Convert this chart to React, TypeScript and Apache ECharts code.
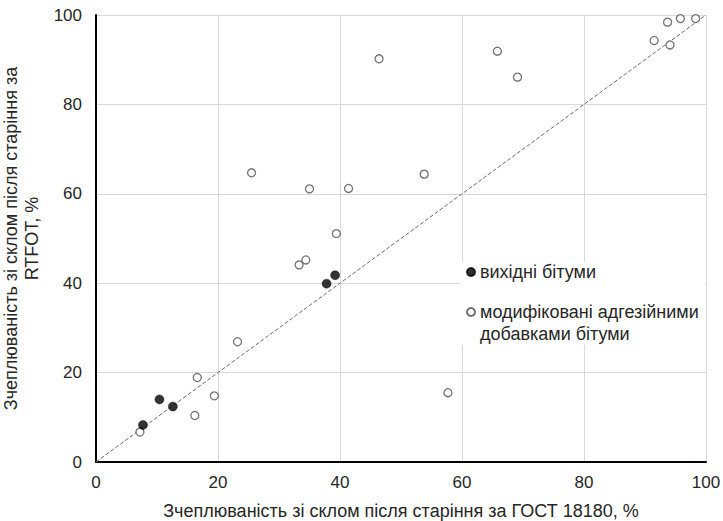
import React, { useEffect, useRef } from "react";
import * as echarts from "echarts";

const baseName = "вихідні бітуми";
const modName = "модифіковані адгезійними добавками бітуми";
const xTitle = "Зчеплюваність зі склом після старіння за ГОСТ 18180, %";
const yTitle = "Зчеплюваність зі склом після старіння за\nRTFOT, %";

// [GOST 18180 %, RTFOT %]
const baseX = [7.7, 10.4, 12.6, 37.8, 39.2];
const baseY = [8.3, 14.0, 12.4, 39.9, 41.8];

const modX = [46.4, 25.5, 35.0, 41.4, 39.4, 65.8, 69.1, 91.5, 93.7, 95.8, 98.3, 94.1, 53.8, 33.3, 34.4, 23.2, 16.6, 19.4, 16.2, 7.2, 57.7];
const modY = [90.2, 64.7, 61.1, 61.2, 51.1, 91.9, 86.1, 94.3, 98.4, 99.2, 99.2, 93.3, 64.4, 44.1, 45.2, 26.9, 18.9, 14.8, 10.4, 6.7, 15.5];

const lineX = [0, 100];
const lineY = [0, 100];

const FONT = "Liberation Sans";
const TXT = "#262626";

export default function App() {
  const ref = useRef<HTMLDivElement>(null);
  useEffect(() => {
    if (!ref.current) return;
    const chart = echarts.init(ref.current, undefined, { renderer: "svg" });
    const axisCommon = {
      type: "value",
      min: 0,
      max: 100,
      interval: 20,
      axisLine: { show: true, onZero: false, lineStyle: { color: "#000", width: 2 } },
      axisTick: { show: false },
      splitLine: { show: true, lineStyle: { color: "#d9d9d9", width: 1 } },
      nameLocation: "middle",
    };
    chart.setOption({
      animation: false,
      backgroundColor: "#fff",
      textStyle: { fontFamily: FONT },
      grid: { left: 96, right: 17, top: 15, bottom: 59, containLabel: false, outerBoundsMode: "none" },
      xAxis: {
        ...axisCommon,
        name: xTitle,
        nameGap: 40,
        nameTextStyle: { fontFamily: FONT, fontSize: 18, color: TXT, lineHeight: 18 },
        axisLabel: { fontFamily: FONT, fontSize: 17, color: TXT, margin: 12 },
      },
      yAxis: {
        ...axisCommon,
        name: yTitle,
        nameGap: 49,
        nameTextStyle: { fontFamily: FONT, fontSize: 18, color: TXT, lineHeight: 21 },
        axisLabel: { fontFamily: FONT, fontSize: 17, color: TXT, margin: 14 },
      },
      legend: [
        {
          data: [baseName],
          left: 466,
          top: 261,
          padding: 0,
          itemWidth: 8,
          itemHeight: 8,
          z: 10,
          icon: "circle",
          textStyle: { fontFamily: FONT, fontSize: 18, color: TXT, lineHeight: 22 },
        },
        {
          data: [modName],
          left: 466,
          top: 279,
          padding: 0,
          itemWidth: 8,
          itemHeight: 8,
          z: 10,
          icon: "circle",
          formatter: () => "\nмодифіковані адгезійними\nдобавками бітуми",
          textStyle: { fontFamily: FONT, fontSize: 18, color: TXT, lineHeight: 22 },
        },
      ],
      graphic: [
        {
          type: "rect",
          z: 5,
          silent: true,
          shape: { x: 460, y: 262, width: 245, height: 83 },
          style: { fill: "#fff" },
        },
      ],
      series: [
        {
          type: "line",
          name: "y = x",
          data: lineX.map((v, i) => [v, lineY[i]]),
          symbol: "none",
          silent: true,
          z: 1,
          lineStyle: { color: "#6f6f6f", width: 1, type: [4, 2] },
        },
        {
          type: "scatter",
          name: modName,
          data: modX.map((v, i) => [v, modY[i]]),
          symbol: "circle",
          symbolSize: 8,
          z: 3,
          itemStyle: { color: "#fff", borderColor: "#505050", borderWidth: 1.3 },
        },
        {
          type: "scatter",
          name: baseName,
          data: baseX.map((v, i) => [v, baseY[i]]),
          symbol: "circle",
          symbolSize: 9,
          z: 4,
          itemStyle: { color: "#000", borderColor: "#000", borderWidth: 0.5 },
        },
      ],
    });
    return () => chart.dispose();
  }, []);
  return <div ref={ref} style={{ width: 723, height: 521, position: "absolute", left: 0, top: 0 }} />;
}
